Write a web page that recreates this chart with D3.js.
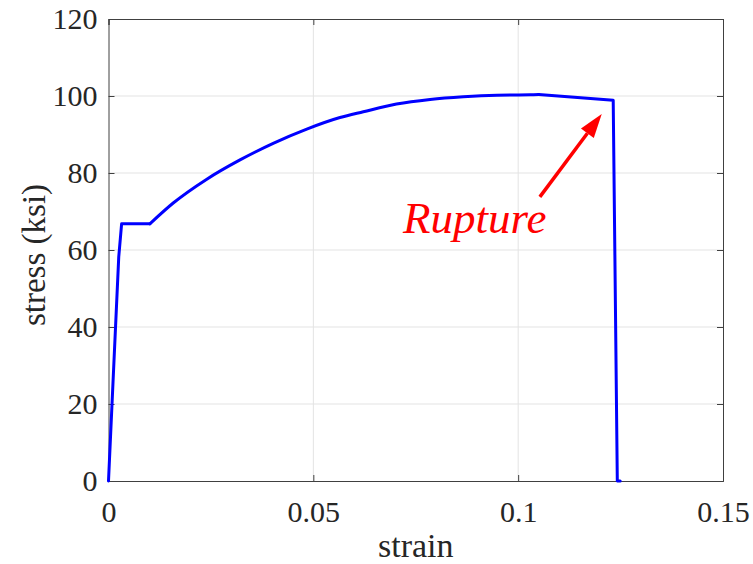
<!DOCTYPE html>
<html>
<head>
<meta charset="utf-8">
<script src="https://cdn.jsdelivr.net/npm/d3@7"></script>
<style>
  body{margin:0;background:#fff;}
  text{font-family:"Liberation Serif","Times New Roman",serif;}
</style>
</head>
<body>
<svg id="chart" width="753" height="564"></svg>
<script>
// stress-strain curve
const strain=[0,0.0025,0.0032,0.0101,0.0158,0.0240,0.0321,0.0402,0.0484,0.0565,0.0622,0.0703,0.0785,0.0866,0.0948,0.1029,0.1050,0.1232,0.1242,0.1249];
const stress=[0,58.2,66.8,66.8,72.2,78.4,83.4,87.7,91.4,94.4,95.9,97.9,99.1,99.8,100.2,100.3,100.4,98.9,0,0];
const xTicks=[0,0.05,0.1,0.15];
const yTicks=[0,20,40,60,80,100,120];
const xLabel="strain", yLabel="stress (ksi)", note="Rupture";

const svg=d3.select("#chart");
const W=753,H=564;
const m={top:19,right:30,bottom:83,left:108.5};

const x=d3.scaleLinear().domain([0,0.15]).range([m.left,W-m.right]);
const y=d3.scaleLinear().domain([0,120]).range([H-m.bottom,m.top]);
const pts=strain.map((s,i)=>[s,stress[i]]);

// grid
svg.append("g").selectAll("line").data(xTicks.slice(1,-1)).enter().append("line")
  .attr("x1",d=>x(d)).attr("x2",d=>x(d)).attr("y1",y(0)).attr("y2",y(120))
  .attr("stroke","#e3e3e3").attr("stroke-width",1);
svg.append("g").selectAll("line").data(yTicks.slice(1,-1)).enter().append("line")
  .attr("x1",x(0)).attr("x2",x(0.15)).attr("y1",d=>y(d)).attr("y2",d=>y(d))
  .attr("stroke","#e3e3e3").attr("stroke-width",1);

// axes, ticks inward
const fmtX=d=>d===0?"0":String(d);
const axB=svg.append("g").attr("transform",`translate(0,${y(0)})`)
  .call(d3.axisBottom(x).tickValues(xTicks).tickSize(-6).tickPadding(12).tickFormat(fmtX));
const axT=svg.append("g").attr("transform",`translate(0,${y(120)})`)
  .call(d3.axisTop(x).tickValues(xTicks).tickSize(-6).tickFormat(""));
const axL=svg.append("g").attr("transform",`translate(${x(0)},0)`)
  .call(d3.axisLeft(y).tickValues(yTicks).tickSize(-6).tickPadding(11));
const axR=svg.append("g").attr("transform",`translate(${x(0.15)},0)`)
  .call(d3.axisRight(y).tickValues(yTicks).tickSize(-6).tickFormat(""));
[axB,axT,axL,axR].forEach(g=>{
  g.selectAll("path,line").attr("stroke","#404040");
  g.selectAll("text").attr("font-size","30px").attr("fill","#262626")
    .attr("font-family","'Liberation Serif','Times New Roman',serif");
});
axB.selectAll(".tick text").attr("dy","0.95em");

// curve: straight elastic/plateau, smooth hardening, straight drop
const lin=d3.line().x(d=>x(d[0])).y(d=>y(d[1]));
const smooth=d3.line().curve(d3.curveMonotoneX).x(d=>x(d[0])).y(d=>y(d[1]));
[[lin,pts.slice(0,4)],[smooth,pts.slice(3,17)],[lin,pts.slice(16)]].forEach(([gen,seg])=>{
  svg.append("path").datum(seg).attr("d",gen)
    .attr("fill","none").attr("stroke","#0000ff").attr("stroke-width",3)
    .attr("stroke-linejoin","round").attr("stroke-linecap","round");
});

// labels
svg.append("text").attr("x",(m.left+W-m.right)/2).attr("y",557)
  .attr("text-anchor","middle").attr("font-size","34px").attr("fill","#262626").text(xLabel);
svg.append("text").attr("transform",`translate(45,255) rotate(-90)`)
  .attr("text-anchor","middle").attr("font-size","33px").attr("fill","#262626").text(yLabel);

// annotation
svg.append("text").attr("x",x(0.0719)).attr("y",y(64.4))
  .attr("font-size","45px").attr("font-style","italic").attr("fill","#ff0000").text(note);
const a0=[x(0.1053),y(73.8)], a1=[x(0.1204),y(95.3)];
const ang=Math.atan2(a1[1]-a0[1],a1[0]-a0[0]);
const hl=24,hw=8;
const bx=a1[0]-hl*Math.cos(ang), by=a1[1]-hl*Math.sin(ang);
svg.append("line").attr("x1",a0[0]).attr("y1",a0[1]).attr("x2",bx).attr("y2",by)
  .attr("stroke","#ff0000").attr("stroke-width",3.5);
svg.append("polygon")
  .attr("points",[a1,[bx+hw*Math.sin(ang),by-hw*Math.cos(ang)],[bx-hw*Math.sin(ang),by+hw*Math.cos(ang)]].map(p=>p.join(",")).join(" "))
  .attr("fill","#ff0000");
</script>
</body>
</html>
